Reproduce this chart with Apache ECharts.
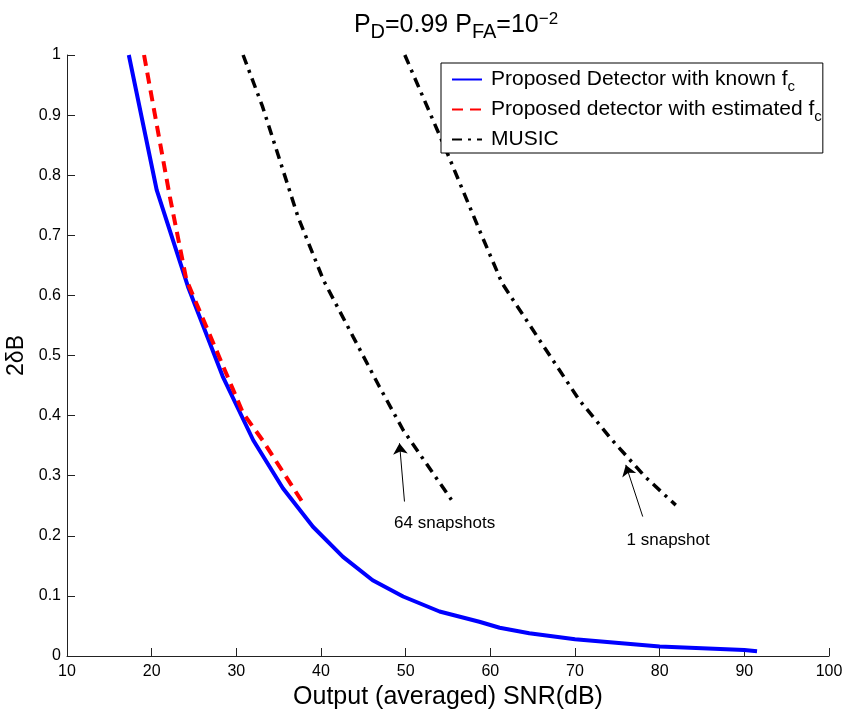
<!DOCTYPE html>
<html>
<head>
<meta charset="utf-8">
<script src="https://cdn.jsdelivr.net/npm/echarts@6/dist/echarts.min.js"></script>
<style>html,body{margin:0;padding:0;background:#fff;}#main{width:847px;height:711px;}</style>
</head>
<body>
<div id="main"></div>
<script>
// ---- data ----
const knownX = [17.3, 20.6, 24.3, 28.4, 32.0, 35.5, 39.05, 42.6, 46.1, 49.7, 54.0, 58.7, 61.1, 64.6, 70.0, 80.0, 90.0, 91.5];
const knownY = [1.0, 0.775, 0.614, 0.465, 0.359, 0.279, 0.215, 0.165, 0.126, 0.099, 0.074, 0.057, 0.047, 0.038, 0.028, 0.016, 0.010, 0.008];

const estX = [19.1, 22.15, 24.1, 30.8, 33.1, 37.9];
const estY = [1.0, 0.764, 0.626, 0.404, 0.359, 0.254];

const music64X = [30.8, 33.1, 37.3, 40.3, 43.8, 46.9, 49.7, 52.4, 55.4];
const music64Y = [1.0, 0.914, 0.73, 0.625, 0.531, 0.448, 0.376, 0.321, 0.26];

const music1X = [49.9, 55.0, 58.7, 61.4, 65.8, 70.5, 74.4, 78.3, 81.9];
const music1Y = [1.0, 0.834, 0.709, 0.62, 0.526, 0.426, 0.359, 0.298, 0.251];

const xTicks = [10, 20, 30, 40, 50, 60, 70, 80, 90, 100];
const yTicks = [0, 0.1, 0.2, 0.3, 0.4, 0.5, 0.6, 0.7, 0.8, 0.9, 1];

const seriesNames = ['known', 'estimated', 'MUSIC'];
const legendTexts = ['Proposed Detector with known {n|f}{s|c}', 'Proposed detector with estimated {n|f}{s|c}', 'MUSIC'];

const annotTexts = ['64 snapshots', '1 snapshot'];
const annotPos = [[54.6, 0.221], [81.0, 0.193]];
const arrowFrom = [[49.86, 0.257], [78.0, 0.232]];
const arrowTo = [[49.27, 0.354], [76.0, 0.318]];

// ---- build ----
const FONT = '"Liberation Sans", Arial, Helvetica, sans-serif';
const zip = (xs, ys) => xs.map((x, i) => [x, ys[i]]);

const chart = echarts.init(document.getElementById('main'), null, {renderer: 'canvas'});
const option = {
  animation: false,
  backgroundColor: '#fff',
  textStyle: {fontFamily: FONT, color: '#000'},
  title: {
    text: '{n|P}{s|D}{n|=0.99 P}{s|FA}{n|=10}{p|−2}',
    left: 451, top: 3, textAlign: 'center',
    textStyle: {
      fontWeight: 'normal',
      rich: {
        n: {fontSize: 25, fontWeight: 'normal', fontFamily: FONT, color: '#000'},
        s: {fontSize: 20, fontWeight: 'normal', fontFamily: FONT, color: '#000', padding: [14, 0, 0, 0]},
        p: {fontSize: 17, fontWeight: 'normal', fontFamily: FONT, color: '#000', padding: [0, 0, 12, 0]}
      }
    }
  },
  grid: {left: 67, right: 18, top: 55, bottom: 55, containLabel: false, outerBoundsMode: 'none'},
  legend: {
    data: seriesNames,
    left: 441, top: 63,
    orient: 'vertical',
    backgroundColor: '#fff',
    borderColor: '#000', borderWidth: 1,
    padding: [6, 1, 3, 10],
    itemGap: 5,
    itemWidth: 30, itemHeight: 14,
    itemStyle: {opacity: 0},
    formatter: name => legendTexts[seriesNames.indexOf(name)],
    textStyle: {
      fontSize: 21, fontFamily: FONT, color: '#000', padding: [0, 0, 0, 4],
      rich: {
        n: {fontSize: 21, fontFamily: FONT, color: '#000'},
        s: {fontSize: 15, fontFamily: FONT, color: '#000', padding: [14, 0, 0, 0]}
      }
    },
    selectedMode: false
  },
  xAxis: {
    type: 'value', min: 10, max: 100, interval: 10,
    name: 'Output (averaged) SNR(dB)', nameLocation: 'middle', nameGap: 26,
    nameTextStyle: {fontSize: 25, fontFamily: FONT, color: '#000'},
    axisLine: {show: true, lineStyle: {color: '#222', width: 1}},
    axisTick: {show: true, inside: true, length: 8, lineStyle: {color: '#222'}},
    axisLabel: {fontSize: 16, fontFamily: FONT, color: '#000', margin: 8,
      formatter: v => xTicks.includes(v) ? String(v) : ''},
    splitLine: {show: false}
  },
  yAxis: {
    type: 'value', min: 0, max: 1, interval: 0.1,
    name: '2δB', nameLocation: 'middle', nameGap: 37, nameRotate: 90,
    nameTextStyle: {fontSize: 23, fontFamily: FONT, color: '#000'},
    axisLine: {show: true, lineStyle: {color: '#222', width: 1}},
    axisTick: {show: true, inside: true, length: 8, lineStyle: {color: '#222'}},
    axisLabel: {fontSize: 16, fontFamily: FONT, color: '#000', margin: 6,
      formatter: v => { const t = yTicks.find(q => Math.abs(q - v) < 1e-6); return t === undefined ? '' : String(t); }},
    splitLine: {show: false}
  },
  series: [
    {name: 'known', type: 'line', data: zip(knownX, knownY), showSymbol: false, symbol: 'none',
      lineStyle: {color: '#0000ff', width: 4}, itemStyle: {color: '#0000ff'}, z: 3},
    {name: 'estimated', type: 'line', data: zip(estX, estY), showSymbol: false, symbol: 'none',
      lineStyle: {color: '#ff0000', width: 4, type: [11, 7]}, itemStyle: {color: '#ff0000'}, z: 4},
    {name: 'MUSIC', type: 'line', data: zip(music64X, music64Y), showSymbol: false, symbol: 'none',
      lineStyle: {color: '#000', width: 3.5, type: [10, 6, 3, 6]}, itemStyle: {color: '#000'}},
    {name: 'MUSIC', type: 'line', data: zip(music1X, music1Y), showSymbol: false, symbol: 'none',
      lineStyle: {color: '#000', width: 3.5, type: [10, 6, 3, 6]}, itemStyle: {color: '#000'}},
    {name: 'annot', type: 'scatter', symbolSize: 0, itemStyle: {opacity: 1, color: '#000'},
      data: annotPos.map((p, i) => ({value: p, name: annotTexts[i]})),
      label: {show: true, position: 'inside', formatter: p => p.name, fontSize: 17, fontFamily: FONT, color: '#000'},
      markLine: {
        silent: true, symbol: ['none', 'arrow'], symbolSize: 11,
        lineStyle: {color: '#000', width: 1, type: 'solid', opacity: 1},
        itemStyle: {color: '#000'},
        label: {show: false},
        emphasis: {disabled: true},
        data: arrowFrom.map((f, i) => [{coord: f}, {coord: arrowTo[i]}])
      }
    }
  ]
};
chart.setOption(option);
</script>
</body>
</html>
